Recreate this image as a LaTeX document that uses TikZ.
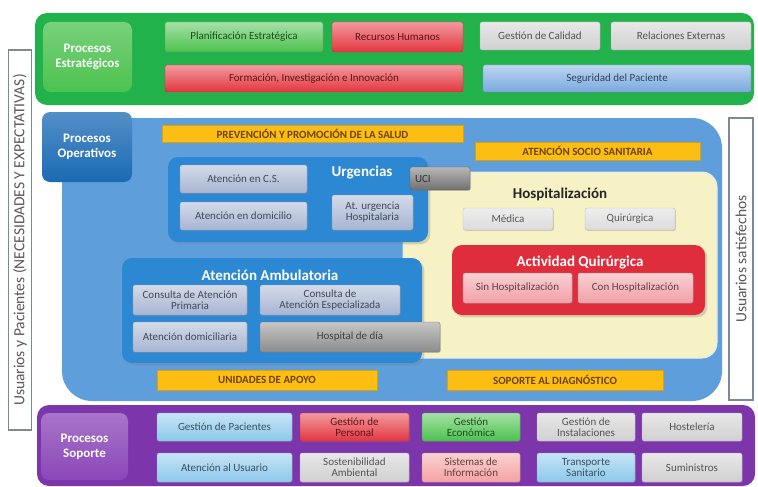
\documentclass[tikz,border=0pt]{standalone}
\usepackage{fontspec}
\setmainfont{Carlito}
\usetikzlibrary{shadows}

\definecolor{verdeBanda}{HTML}{22B24C}
\definecolor{verdeCaja}{HTML}{4CC24E}
\definecolor{rojoCaja}{HTML}{E4353E}
\definecolor{grisCaja}{HTML}{D0D0D0}
\definecolor{azulSeg}{HTML}{7AAADF}
\definecolor{azulOp}{HTML}{5E9FDB}
\definecolor{azulProc}{HTML}{1A6AB4}
\definecolor{azulCont}{HTML}{2C88D2}
\definecolor{azulGris}{HTML}{A7B5D2}
\definecolor{amarilloHosp}{HTML}{F6F2C6}
\definecolor{rojoAct}{HTML}{E02D3C}
\definecolor{rosaCaja}{HTML}{F1A0A8}
\definecolor{naranja}{HTML}{FDBE14}
\definecolor{marron}{HTML}{6E4200}
\definecolor{moradoBanda}{HTML}{7C35AA}
\definecolor{moradoProc}{HTML}{8A47B8}
\definecolor{celeste}{HTML}{8CC8EA}
\definecolor{salmon}{HTML}{F4A2A2}
\definecolor{grisBorde}{HTML}{7E8898}
\definecolor{grisUci}{HTML}{707070}
\definecolor{grisDia}{HTML}{8C8C8C}
\definecolor{blancoCaja}{HTML}{DCDCDC}

\tikzset{
  caja/.style={rounded corners=2pt, top color=#1!50!white, bottom color=#1,
    draw=#1!85!black, line width=0.3pt, text=#1!40!black,
    font=\fontsize{11}{11}\selectfont, align=center, inner sep=1pt,
    drop shadow={opacity=0.35, shadow xshift=0.8pt, shadow yshift=-0.8pt}},
  barra/.style={fill=naranja, draw=naranja!85!black, line width=0.3pt,
    text=marron, font=\bfseries\fontsize{11}{11}\selectfont, inner sep=1pt,
    drop shadow={opacity=0.35, shadow xshift=0.8pt, shadow yshift=-0.8pt}},
  titulo/.style={font=\bfseries\fontsize{15}{15}\selectfont, text=white, inner sep=0pt},
  proceso/.style={rounded corners=8pt, top color=#1!75!white, bottom color=#1,
    text=white, font=\bfseries\fontsize{13}{15}\selectfont, align=center},
  lateral/.style={draw=grisBorde, line width=1.2pt, fill=white, rotate=90,
    text=black!65, font=\fontsize{15.5}{15.5}\selectfont, inner sep=0pt}
}

\begin{document}
\begin{tikzpicture}[x=1pt,y=-1pt]
  \useasboundingbox (0,0) rectangle (758,487);

  % laterales
  \node[lateral, minimum width=380, minimum height=23] (entrada) at (20,240)
    {Usuarios y Pacientes (NECESIDADES Y EXPECTATIVAS)};
  \node[lateral, minimum width=282, minimum height=24] (salida) at (741,259)
    {Usuarios satisfechos};

  % procesos estrategicos
  \fill[verdeBanda, rounded corners=12] (35,13) rectangle (754,105);
  \node[proceso=verdeCaja, minimum width=89, minimum height=70] (estrat) at (87.5,57)
    {Procesos\\Estratégicos};
  \node[caja=verdeCaja, minimum width=158, minimum height=30] (planif) at (244,37) {Planificación Estratégica};
  \node[caja=rojoCaja, minimum width=131, minimum height=30] (rrhh) at (397.5,37) {Recursos Humanos};
  \node[caja=grisCaja, minimum width=120, minimum height=28] (calidad) at (540,36) {Gestión de Calidad};
  \node[caja=grisCaja, minimum width=140, minimum height=28] (relext) at (681,36) {Relaciones Externas};
  \node[caja=rojoCaja, minimum width=298, minimum height=27] (formac) at (314,78.5) {Formación, Investigación e Innovación};
  \node[caja=azulSeg, minimum width=268, minimum height=27] (segur) at (617,78.5) {Seguridad del Paciente};

  % procesos operativos
  \fill[azulOp, rounded corners=30] (62,118) rectangle (722,401);
  \node[proceso=azulProc, minimum width=90, minimum height=70] (operat) at (87,147)
    {Procesos\\Operativos};
  \node[barra, minimum width=301, minimum height=17] (prevenc) at (312.5,133.5) {PREVENCIÓN Y PROMOCIÓN DE LA SALUD};
  \node[barra, minimum width=225, minimum height=18] (sociosan) at (587.5,151) {ATENCIÓN SOCIO SANITARIA};

  % hospitalizacion
  \fill[amarilloHosp, draw=white!80!azulOp, line width=1pt, rounded corners=15] (403,172) rectangle (717,358);
  \node[titulo, text=black!85] (hosp) at (560,194) {Hospitalización};
  \node[caja=blancoCaja, minimum width=90, minimum height=22] (medica) at (508,219) {Médica};
  \node[caja=blancoCaja, minimum width=90, minimum height=22] (quirur) at (630,219) {Quirúrgica};
  \fill[rojoAct, drop shadow={opacity=0.3}, rounded corners=10] (452,245) rectangle (705,315);
  \node[titulo] (activ) at (580,262) {Actividad Quirúrgica};
  \node[caja=rosaCaja, minimum width=109, minimum height=30] (sinhosp) at (517.5,288) {Sin Hospitalización};
  \node[caja=rosaCaja, minimum width=115, minimum height=30] (conhosp) at (635.5,288) {Con Hospitalización};

  % urgencias
  \fill[azulCont, drop shadow={opacity=0.3}, rounded corners=10] (168,157) rectangle (428,242);
  \node[titulo] (urgen) at (362,173) {Urgencias};
  \node[caja=azulGris, minimum width=127, minimum height=28] (atcs) at (243.5,179) {Atención en C.S.};
  \node[caja=azulGris, minimum width=127, minimum height=28] (atdom) at (243.5,216) {Atención en domicilio};
  \node[caja=azulGris, minimum width=81, minimum height=35] (aturg) at (372.5,212.5) {At. urgencia\\Hospitalaria};
  \node[caja=grisUci, text=black!80, minimum width=60, minimum height=23, text width=50, align=left] (uci) at (440,178.5) {UCI};

  % atencion ambulatoria
  \fill[azulCont, drop shadow={opacity=0.3}, rounded corners=10] (122,258) rectangle (422,363);
  \node[titulo] (ambul) at (270,275) {Atención Ambulatoria};
  \node[caja=azulGris, minimum width=114, minimum height=30] (consap) at (190,300) {Consulta de Atención\\Primaria};
  \node[caja=azulGris, minimum width=140, minimum height=30] (consae) at (330,300) {Consulta de\\Atención Especializada};
  \node[caja=azulGris, minimum width=114, minimum height=30] (atdomic) at (190,337) {Atención domiciliaria};
  \node[caja=grisDia, text=black!75, minimum width=180, minimum height=30] (hospdia) at (350,337) {Hospital de día};

  \node[barra, minimum width=220, minimum height=20] (apoyo) at (267,380) {UNIDADES DE APOYO};
  \node[barra, minimum width=216, minimum height=20] (diagn) at (555,380) {SOPORTE AL DIAGNÓSTICO};

  % procesos soporte
  \fill[moradoBanda, rounded corners=12] (37,405) rectangle (755,486);
  \node[proceso=moradoProc, minimum width=87, minimum height=67] (soporte) at (84.5,446.5)
    {Procesos\\Soporte};
  \node[caja=celeste, minimum width=135, minimum height=28] (gpac) at (224.5,427) {Gestión de Pacientes};
  \node[caja=rojoCaja, minimum width=109, minimum height=28] (gper) at (354.5,427) {Gestión de\\Personal};
  \node[caja=verdeCaja, minimum width=98, minimum height=28] (geco) at (471,427) {Gestión\\Económica};
  \node[caja=grisCaja, minimum width=98, minimum height=28] (ginst) at (586,427) {Gestión de\\Instalaciones};
  \node[caja=grisCaja, minimum width=100, minimum height=28] (host) at (692,427) {Hostelería};
  \node[caja=celeste, minimum width=135, minimum height=29] (atus) at (224.5,467.5) {Atención al Usuario};
  \node[caja=grisCaja, minimum width=109, minimum height=29] (sost) at (354.5,467.5) {Sostenibilidad\\Ambiental};
  \node[caja=salmon, minimum width=98, minimum height=29] (sinf) at (471,467.5) {Sistemas de\\Información};
  \node[caja=celeste, minimum width=98, minimum height=29] (transp) at (586,467.5) {Transporte\\Sanitario};
  \node[caja=grisCaja, minimum width=100, minimum height=29] (sumin) at (692,467.5) {Suministros};
\end{tikzpicture}
\end{document}
